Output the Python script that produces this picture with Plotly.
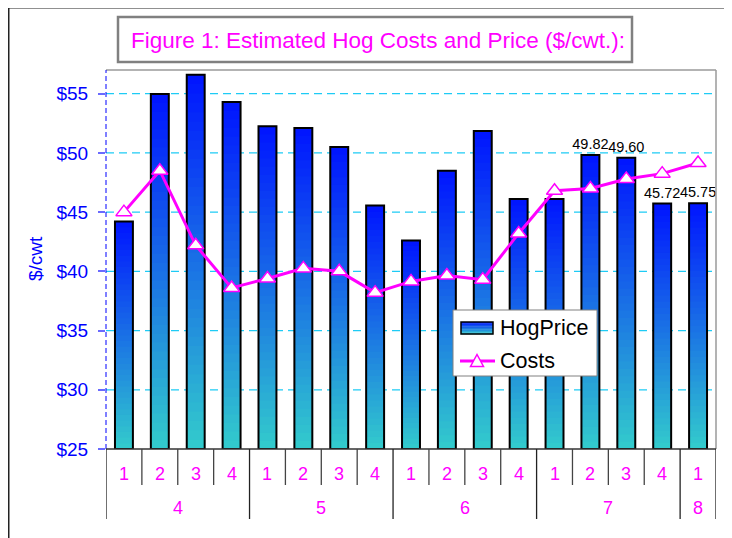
import plotly.graph_objects as go

# ---------------- data ----------------
years = ["4", "4", "4", "4", "5", "5", "5", "5", "6", "6", "6", "6", "7", "7", "7", "7", "8"]
quarters = ["1", "2", "3", "4", "1", "2", "3", "4", "1", "2", "3", "4", "1", "2", "3", "4", "1"]
hog_price = [44.2, 54.97, 56.6, 54.3, 52.25, 52.1, 50.5, 45.55, 42.6, 48.5, 51.85,
             46.1, 46.1, 49.82, 49.60, 45.72, 45.75]
costs = [45.0, 48.5, 42.2, 38.6, 39.4, 40.25, 40.0, 38.2, 39.15, 39.65, 39.3,
         43.2, 46.8, 47.0, 47.8, 48.25, 49.15]
labelled_bars = [13, 14, 15, 16]
y_ticks = [25, 30, 35, 40, 45, 50, 55]
title = "Figure 1: Estimated Hog Costs and Price ($/cwt.):"

# ---------------- layout geometry (page pixels; page body has 8px margin) ----------------
OFF = 8
W, H = 732 - OFF, 538 - OFF
L, R, T, B = 106, 716, 70, 449          # plot area in page pixels
Y0, Y1 = 25, 57
FONT = "Liberation Sans, Arial"

def px(x):
    return (x - L) / (R - L)

def py(y):
    return (B - y) / (B - T)

cats = [f"{a}-{b}" for a, b in zip(years, quarters)]
n = len(cats)

TOP = (0, 20, 255)
BOT = (51, 204, 204)

def mix(t):
    c = [round(BOT[i] + (TOP[i] - BOT[i]) * t) for i in range(3)]
    return f"rgb({c[0]},{c[1]},{c[2]})"

fig = go.Figure()

# gradient bars (stepped)
N = 40
for k in range(N):
    frac = (N - k) / N
    t = (N - k - 0.5) / N
    fig.add_trace(go.Bar(
        x=cats, y=[(v - Y0) * frac for v in hog_price], base=[Y0] * n,
        width=0.5, marker=dict(color=mix(t), line=dict(width=0)),
        showlegend=False, hoverinfo="skip"))

# outline + data labels
texts = [f"{v:.2f}" if i in labelled_bars else "" for i, v in enumerate(hog_price)]
fig.add_trace(go.Bar(
    x=cats, y=[v - Y0 for v in hog_price], base=[Y0] * n, width=0.5,
    marker=dict(color="rgba(0,0,0,0)", line=dict(color="#000000", width=2)),
    text=texts, textposition="outside", constraintext="none",
    outsidetextfont=dict(color="#000000", size=14.5, family=FONT),
    cliponaxis=False, name="HogPrice", showlegend=False))

# costs line
fig.add_trace(go.Scatter(
    x=cats, y=costs, mode="lines+markers", name="Costs",
    line=dict(color="#FF00FF", width=3),
    marker=dict(symbol="triangle-up", size=14, color="#FFFFFF",
                line=dict(color="#FF00FF", width=1.5)),
    showlegend=False, cliponaxis=False))

shapes = []
annotations = []

# dashed cyan gridlines (drawn below the bars)
for v in y_ticks[1:]:
    shapes.append(dict(type="line", xref="paper", yref="y", x0=0, x1=1, y0=v, y1=v,
                       line=dict(color="#1ECBF5", width=1.2, dash="8px,5px"), layer="below"))

# outer frame
shapes.append(dict(type="rect", xref="paper", yref="paper",
                   x0=px(8.5), x1=px(770), y0=py(7.5), y1=py(580),
                   line=dict(color="#222222", width=2), fillcolor="rgba(0,0,0,0)", layer="below"))
# plot area border top/right
shapes.append(dict(type="line", xref="paper", yref="paper", x0=0, x1=1, y0=1, y1=1,
                   line=dict(color="#9a9a9a", width=1.5)))
shapes.append(dict(type="line", xref="paper", yref="paper", x0=1, x1=1, y0=0, y1=1,
                   line=dict(color="#9a9a9a", width=1.5)))
# y axis dashed blue line
shapes.append(dict(type="line", xref="paper", yref="paper", x0=0, x1=0, y0=0, y1=1,
                   line=dict(color="#0000FF", width=1, dash="5px,3px")))
# x axis baseline
shapes.append(dict(type="line", xref="paper", yref="paper", x0=0, x1=1, y0=0, y1=0,
                   line=dict(color="#333333", width=1.5)))

# x-axis tick dividers
year_bounds = [0] + [i for i in range(1, n) if years[i] != years[i - 1]] + [n]
for i in range(n + 1):
    long_tick = i in year_bounds
    shapes.append(dict(type="line", xref="x", yref="paper", x0=i - 0.5, x1=i - 0.5,
                       y0=0, y1=py(519 if long_tick else 485),
                       line=dict(color="#222222" if long_tick else "#444444", width=1.3)))

lab_font = dict(family=FONT, size=18, color="#FF00FF")
for i, q in enumerate(quarters):
    annotations.append(dict(x=i, y=py(474), xref="x", yref="paper", text=q,
                            showarrow=False, font=lab_font, xanchor="center", yanchor="middle"))
for a, b in zip(year_bounds[:-1], year_bounds[1:]):
    annotations.append(dict(x=(a + b - 1) / 2, y=py(508), xref="x", yref="paper",
                            text=years[a], showarrow=False, font=lab_font,
                            xanchor="center", yanchor="middle"))

# title box
shapes.append(dict(type="rect", xref="paper", yref="paper",
                   x0=px(118), x1=px(632), y0=py(17), y1=py(62),
                   line=dict(color="#808080", width=2.5), fillcolor="#FFFFFF"))
annotations.append(dict(x=px(378), y=py(41), xref="paper", yref="paper", text=title,
                        showarrow=False, xanchor="center", yanchor="middle",
                        font=dict(family=FONT, size=22.5, color="#FF00FF")))

# y axis title
annotations.append(dict(x=px(35), y=py(259), xref="paper", yref="paper", text="$/cwt",
                        showarrow=False, textangle=-90, xanchor="center", yanchor="middle",
                        font=dict(family=FONT, size=19, color="#0000FF")))

# legend
shapes.append(dict(type="rect", xref="paper", yref="paper",
                   x0=px(453), x1=px(597), y0=py(310), y1=py(376),
                   line=dict(color="#808080", width=1), fillcolor="#FFFFFF"))
sw_top, sw_bot, steps = 322, 334, 8
for s in range(steps):
    y_a = sw_top + (sw_bot - sw_top) * s / steps
    y_b = sw_top + (sw_bot - sw_top) * (s + 1) / steps
    shapes.append(dict(type="rect", xref="paper", yref="paper",
                       x0=px(461), x1=px(493), y0=py(y_a), y1=py(y_b + 0.3),
                       line=dict(width=0), fillcolor=mix(1 - (s + 0.5) / steps)))
shapes.append(dict(type="rect", xref="paper", yref="paper",
                   x0=px(461), x1=px(493), y0=py(sw_top), y1=py(sw_bot),
                   line=dict(color="#000000", width=1.5), fillcolor="rgba(0,0,0,0)"))
shapes.append(dict(type="line", xref="paper", yref="paper",
                   x0=px(460), x1=px(495), y0=py(361), y1=py(361),
                   line=dict(color="#FF00FF", width=3)))
tri = [(470.5, 366.5), (483.5, 366.5), (477, 354.5)]
path = "M " + " L ".join(f"{px(a)},{py(b)}" for a, b in tri) + " Z"
shapes.append(dict(type="path", xref="paper", yref="paper", path=path,
                   line=dict(color="#FF00FF", width=1.5), fillcolor="#FFFFFF"))
leg_font = dict(family=FONT, size=21.5, color="#000000")
annotations.append(dict(x=px(498), y=py(328), xref="paper", yref="paper", text="HogPrice",
                        showarrow=False, xanchor="left", yanchor="middle", font=leg_font))
annotations.append(dict(x=px(498), y=py(361), xref="paper", yref="paper", text="Costs",
                        showarrow=False, xanchor="left", yanchor="middle", font=leg_font))

fig.update_layout(
    width=W, height=H,
    margin=dict(l=L - OFF, r=W - (R - OFF), t=T - OFF, b=H - (B - OFF), pad=0),
    paper_bgcolor="#FFFFFF", plot_bgcolor="#FFFFFF",
    barmode="overlay", bargap=0.5,
    showlegend=False,
    shapes=shapes, annotations=annotations,
    font=dict(family=FONT),
)
fig.update_xaxes(type="category", range=[-0.5, n - 0.5], showticklabels=False,
                 showgrid=False, zeroline=False, showline=False, ticks="")
fig.update_yaxes(range=[Y0, Y1], tickvals=y_ticks, ticktext=[f"${v}" for v in y_ticks],
                 tickfont=dict(family=FONT, size=19, color="#0000FF"),
                 ticks="outside", ticklen=7, tickcolor="#6A6AFF", tickwidth=1.5,
                 showgrid=False, zeroline=False, showline=False, ticklabelstandoff=6)

fig.write_html("out.html")
